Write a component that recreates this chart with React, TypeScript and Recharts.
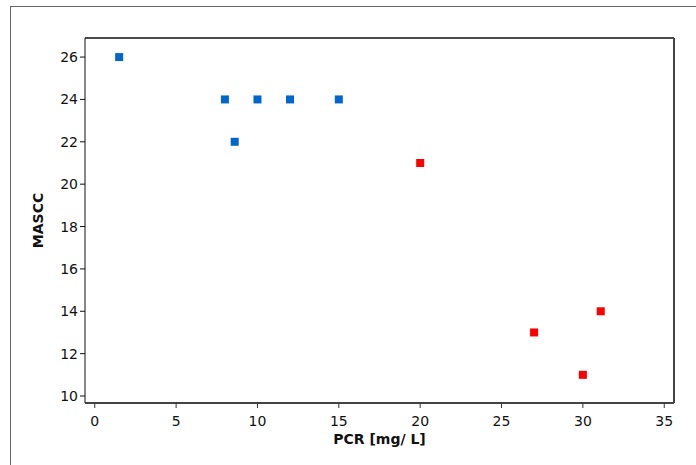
import { ScatterChart, Scatter, XAxis, YAxis, Label, ReferenceLine } from "recharts";

const blueX = [1.5, 8, 8.6, 10, 12, 15];
const blueY = [26, 24, 22, 24, 24, 24];
const redX = [20, 27, 30, 31.1];
const redY = [21, 13, 11, 14];
const xTicks = [0, 5, 10, 15, 20, 25, 30, 35];
const yTicks = [10, 12, 14, 16, 18, 20, 22, 24, 26];
const xDomain = [-0.6, 35.6];
const yDomain = [9.67, 26.9];

const blue = blueX.map((x, i) => ({ x, y: blueY[i] }));
const red = redX.map((x, i) => ({ x, y: redY[i] }));

const font = "DejaVu Sans, sans-serif";
const tickStyle = { fontSize: 14, fill: "#111", fontFamily: font };

export default function App() {
  return (
    <div style={{ position: "absolute", left: 0, top: 0, width: 696, height: 465, background: "#fff" }}>
      <div style={{
        position: "absolute", left: 10, top: 6, right: 0, bottom: 0,
        borderTop: "1px solid #666", borderLeft: "1px solid #666",
      }} />
      <ScatterChart width={696} height={465} margin={{ top: 38, right: 22, bottom: 0, left: 0 }}
        style={{ position: "absolute", left: 0, top: 0 }}>
        <XAxis type="number" dataKey="x" domain={xDomain} ticks={xTicks}
          height={62} tick={{ ...tickStyle, dy: 6 }} tickSize={5} stroke="#444" strokeWidth={2}
          tickLine={{ stroke: "#333", strokeWidth: 1 }} allowDataOverflow>
          <Label value="PCR [mg/ L]" position="insideTop" offset={31}
            style={{ fontSize: 14, fontWeight: "bold", fill: "#111", fontFamily: font }} />
        </XAxis>
        <YAxis type="number" dataKey="y" domain={yDomain} ticks={yTicks}
          width={85} tick={tickStyle} tickSize={5} stroke="#111" allowDataOverflow>
          <Label value="MASCC" angle={-90} position="insideLeft" offset={38}
            style={{ fontSize: 14, fontWeight: "bold", fill: "#111", fontFamily: font, textAnchor: "middle" }} />
        </YAxis>
        <ReferenceLine y={yDomain[1]} stroke="#111" strokeWidth={1.5} />
        <ReferenceLine x={xDomain[1]} stroke="#444" strokeWidth={2} />
        <Scatter data={blue} fill="#0066cc" shape="square"
          isAnimationActive={false} size={64} />
        <Scatter data={red} fill="#ff0000" shape="square"
          isAnimationActive={false} size={64} />
      </ScatterChart>
    </div>
  );
}
